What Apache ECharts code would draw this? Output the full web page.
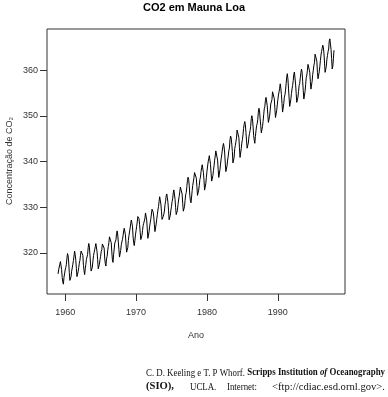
<!DOCTYPE html>
<html><head><meta charset="utf-8">
<script src="https://cdn.jsdelivr.net/npm/echarts@6/dist/echarts.min.js"></script>
<style>html,body{margin:0;padding:0;background:#fff}#c{width:388px;height:397px}</style>
</head><body><div id="c"></div>
<script>
const startYear = 1959;
const co2 = [
315.42,316.31,316.50,317.56,318.13,318.00,316.39,314.65,313.68,313.18,314.66,315.43,
316.27,316.81,317.42,318.87,319.87,319.43,318.01,315.74,314.00,313.68,314.84,316.03,
316.73,317.54,318.38,319.31,320.42,319.61,318.42,316.63,314.83,315.16,315.94,316.85,
317.78,318.40,319.53,320.42,320.85,320.45,319.45,317.25,316.11,315.27,316.53,317.53,
318.58,318.92,319.70,321.22,322.08,321.31,319.58,317.61,316.05,315.83,316.91,318.20,
319.41,320.07,320.74,321.40,322.06,321.73,320.27,318.54,316.54,316.71,317.53,318.55,
319.27,320.28,320.73,321.97,322.00,321.71,321.05,318.71,317.66,317.14,318.70,319.25,
320.46,321.43,322.23,323.54,323.91,323.59,322.24,320.20,318.48,317.94,319.63,320.87,
322.17,322.34,322.88,324.25,324.83,323.93,322.38,320.76,319.10,319.24,320.56,321.80,
322.40,322.99,323.73,324.86,325.40,325.20,323.98,321.95,320.18,320.09,321.16,322.74,
323.83,324.26,325.47,326.50,327.21,326.54,325.72,323.50,322.22,321.62,322.69,323.95,
324.89,325.82,326.77,327.97,327.91,327.50,326.18,324.53,322.93,322.90,323.85,324.96,
326.01,326.51,327.01,327.62,328.76,328.40,327.20,325.27,323.20,323.40,324.63,325.85,
326.60,327.47,327.58,329.56,329.90,328.92,327.88,326.16,324.68,325.04,326.34,327.39,
328.37,329.40,330.14,331.33,332.31,331.90,330.70,329.15,327.35,327.02,327.99,328.48,
329.18,330.55,331.32,332.48,332.92,332.08,331.01,329.23,327.27,327.21,328.29,329.41,
330.23,331.25,331.87,333.14,333.80,333.43,331.73,329.90,328.40,328.17,329.32,330.59,
331.58,332.39,333.33,334.41,334.71,334.17,332.89,330.77,329.14,328.78,330.14,331.52,
332.75,333.24,334.53,335.90,336.57,336.10,334.76,332.59,331.42,330.98,332.24,333.68,
334.80,335.22,336.47,337.59,337.84,337.72,336.37,334.51,332.60,332.38,333.75,334.78,
336.05,336.59,337.79,338.71,339.30,339.12,337.56,335.92,333.75,333.70,335.12,336.56,
337.84,338.19,339.91,340.60,341.29,341.00,339.39,337.43,335.72,335.84,336.93,338.04,
339.06,340.30,341.21,342.33,342.74,342.08,340.32,338.26,336.52,336.68,338.19,339.44,
340.57,341.44,342.53,343.39,343.96,343.18,341.88,339.65,337.81,337.69,339.09,340.32,
341.20,342.35,342.93,344.77,345.58,345.14,343.81,342.21,339.69,339.82,340.98,342.82,
343.52,344.33,345.11,346.88,347.25,346.62,345.22,343.11,340.90,341.18,342.80,344.04,
344.79,345.82,347.25,348.17,348.74,348.07,346.38,344.51,342.92,342.62,344.06,345.38,
346.11,346.78,347.68,349.37,350.03,349.37,347.76,345.73,344.68,343.99,345.48,346.72,
347.84,348.29,349.23,350.80,351.66,351.07,349.33,347.92,346.27,346.18,347.64,348.78,
350.25,351.54,352.05,353.41,354.04,353.62,352.22,350.27,348.55,348.72,349.91,351.18,
352.60,352.92,353.53,355.26,355.52,354.97,353.75,351.52,349.64,349.83,351.14,352.37,
353.50,354.55,355.23,356.04,357.00,356.07,354.67,352.76,350.82,351.04,352.69,354.07,
354.59,355.63,357.03,358.48,359.22,358.12,356.06,353.92,352.05,352.11,353.64,354.89,
355.88,356.63,357.72,359.07,359.58,359.17,356.94,354.92,352.94,353.23,354.09,355.33,
356.63,357.10,358.32,359.41,360.23,359.55,357.53,355.48,353.67,353.95,355.30,356.78,
358.34,358.89,359.95,361.25,361.67,360.94,359.55,357.49,355.84,356.00,357.59,359.05,
359.98,361.03,361.66,363.48,363.82,363.30,361.94,359.50,358.11,357.80,359.61,360.74,
362.09,363.29,364.06,364.76,365.45,365.01,363.70,361.54,359.51,359.65,360.80,362.38,
363.23,364.06,364.61,366.40,366.84,365.68,364.52,362.57,360.24,360.83,362.49,364.34
];
const xTicks = [1960, 1970, 1980, 1990];
const yTicks = [320, 330, 340, 350, 360];

const points = co2.map((v, i) => [startYear + i / 12, v]);
const sans = 'Arial, "Liberation Sans", Helvetica, sans-serif';
const serif = '"Liberation Serif", "Times New Roman", serif';
const fs = 9.5;
const ctx = document.createElement('canvas').getContext('2d');
function mw(text, weight, style) {
  ctx.font = (style || 'normal') + ' ' + (weight || 'normal') + ' ' + fs + 'px ' + serif;
  return ctx.measureText(text).width || 1;
}
const segs = [
  ['n', 'C. D. Keeling e T. P Whorf. ', 'normal', 'normal'],
  ['b', 'Scripps Institution ', 'bold', 'normal'],
  ['bi', 'of', 'bold', 'italic'],
  ['b', ' Oceanography', 'bold', 'normal']
];
const natural = segs.reduce((s, g) => s + mw(g[1], g[2], g[3]), 0);
const sx = (385 - 146) / natural;
const richDef = {
  n: { fontFamily: serif, fontSize: fs, fill: '#111' },
  b: { fontFamily: serif, fontSize: fs, fontWeight: 'bold', fill: '#111' },
  bi: { fontFamily: serif, fontSize: fs, fontWeight: 'bold', fontStyle: 'italic', fill: '#111' }
};
function w2(x0, x1, text, weight) {
  const s = x1 ? (x1 - x0) / mw(text, weight) : sx;
  return { type: 'text', x: x0, y: 387, scaleX: s, silent: true,
    style: { text: text, fontFamily: serif, fontSize: fs, fontWeight: weight || 'normal', fill: '#111',
      verticalAlign: 'middle', align: 'left' } };
}
const chart = echarts.init(document.getElementById('c'));
chart.setOption({
  animation: false,
  backgroundColor: '#fff',
  title: {
    text: 'CO2 em Mauna Loa', left: 'center', top: 0, padding: [2, 0, 0, 4],
    textStyle: { fontFamily: sans, fontSize: 11, fontWeight: 'bold', color: '#000' }
  },
  grid: { left: 47, right: 43, top: 29, bottom: 103, show: true, borderColor: '#333', borderWidth: 1, containLabel: false },
  xAxis: {
    type: 'value', min: 1957.44, max: 1999.47, interval: 10,
    name: 'Ano', nameLocation: 'middle', nameGap: 37,
    nameTextStyle: { fontFamily: sans, fontSize: 9, color: '#333' },
    axisLine: { show: false },
    axisTick: { show: true, inside: false, length: 7, lineStyle: { color: '#333' }, customValues: xTicks },
    axisLabel: { fontFamily: sans, fontSize: 9, color: '#333', margin: 14, customValues: xTicks, formatter: v => String(v) },
    splitLine: { show: false }
  },
  yAxis: {
    type: 'value', min: 311.03, max: 368.99,
    axisLine: { show: false },
    axisTick: { show: true, inside: false, length: 7, lineStyle: { color: '#333' }, customValues: yTicks },
    axisLabel: { fontFamily: sans, fontSize: 9, color: '#333', margin: 9, customValues: yTicks, formatter: v => String(v) },
    splitLine: { show: false }
  },
  graphic: [
    { type: 'text', x: 10, y: 161, rotation: Math.PI / 2,
      style: { text: 'Concentração de CO₂', fontFamily: sans, fontSize: 9, fill: '#333', align: 'center', verticalAlign: 'middle' } },
    { type: 'text', x: 146, y: 373, scaleX: sx, silent: true,
      style: { text: segs.map(g => '{' + g[0] + '|' + g[1] + '}').join(''), verticalAlign: 'middle', align: 'left', rich: richDef } },
    w2(146, 174, '(SIO),', 'bold'),
    w2(190, 0, 'UCLA.'),
    w2(227, 0, 'Internet:'),
    w2(272, 385, '<ftp://cdiac.esd.ornl.gov>.')
  ],
  series: [{
    type: 'line', data: points, showSymbol: false, symbol: 'none',
    lineStyle: { color: '#000', width: 1 }, silent: true
  }]
});
</script></body></html>
